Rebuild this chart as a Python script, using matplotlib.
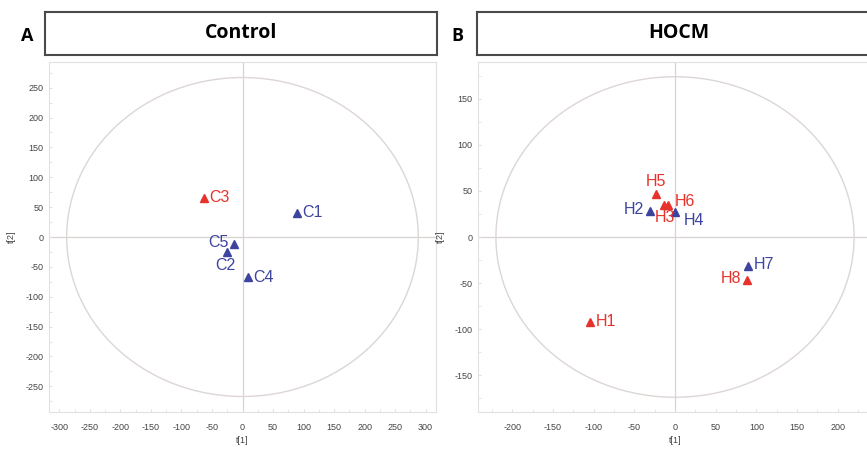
import matplotlib
matplotlib.use("Agg")
import matplotlib.pyplot as plt
from matplotlib.patches import Ellipse
from matplotlib.ticker import MultipleLocator

# scores, panel A (Control)
ctrl_names = ["C1", "C2", "C3", "C4", "C5"]
ctrl_t1 = [89, -25, -63, 9, -14]
ctrl_t2 = [41, -25, 66, -67, -12]
ctrl_group = ["b", "b", "r", "b", "b"]

# scores, panel B (HOCM)
hocm_names = ["H1", "H2", "H3", "H4", "H5", "H6", "H7", "H8"]
hocm_t1 = [-104, -31, -14, 0, -23, -9, 90, 88]
hocm_t2 = [-92, 28, 35, 27, 47, 35, -31, -47]
hocm_group = ["r", "b", "r", "b", "r", "r", "b", "r"]

colors = {"b": "#3c44a0", "r": "#e6322b"}
plt.rcParams["font.family"] = ["Liberation Sans", "DejaVu Sans"]
plt.rcParams["axes.unicode_minus"] = False

# label offsets in points (dx, dy, ha, va)
ctrl_off = {"C1": (1, 0, "left", "center"), "C2": (-1, -10, "center", "center"),
            "C3": (1, 0, "left", "center"), "C4": (1, 0, "left", "center"),
            "C5": (-1, 1, "right", "center")}
hocm_off = {"H1": (1, 0, "left", "center"), "H2": (-1, 1, "right", "center"),
            "H3": (1, -9, "center", "center"), "H4": (3, -6, "left", "center"),
            "H5": (0, 9, "center", "center"), "H6": (2, 2, "left", "center"),
            "H7": (1, 1, "left", "center"), "H8": (-1, 1, "right", "center")}

W, H = 867, 451
fig = plt.figure(figsize=(W / 100, H / 100), dpi=100)


def px(x0, y0, x1, y1):
    return [x0 / W, 1 - y1 / H, (x1 - x0) / W, (y1 - y0) / H]


def score_panel(rect, names, t1, t2, grp, offs, lim_x, lim_y, ell, step):
    ax = fig.add_axes(rect)
    ax.set_xlim(-lim_x, lim_x)
    ax.set_ylim(-lim_y, lim_y)
    ax.axhline(0, color="#d8d2d0", lw=0.9, zorder=1)
    ax.axvline(0, color="#d8d2d0", lw=0.9, zorder=1)
    ax.add_patch(Ellipse((0, 0), 2 * ell[0], 2 * ell[1], fill=False,
                         ec="#dcd6d4", lw=1.0, zorder=1))
    for n, x, y, g in zip(names, t1, t2, grp):
        ax.plot(x, y, "^", color=colors[g], ms=6, mec=colors[g], zorder=3)
        dx, dy, ha, va = offs[n]
        ax.annotate(n, (x, y), xytext=(dx + (3 if ha == "left" else -3 if ha == "right" else 0), dy),
                    textcoords="offset points", ha=ha, va=va, fontsize=11.5,
                    color=colors[g], zorder=4)
    ax.xaxis.set_major_locator(MultipleLocator(step))
    ax.yaxis.set_major_locator(MultipleLocator(step))
    ax.xaxis.set_minor_locator(MultipleLocator(step / 2))
    ax.yaxis.set_minor_locator(MultipleLocator(step / 2))
    ax.tick_params(which="both", direction="in", color="#eadcdc", labelsize=6.5,
                   labelcolor="#444444", length=2)
    ax.tick_params(axis="x", which="major", pad=8)
    ax.tick_params(axis="y", which="major", pad=4)
    for s in ax.spines.values():
        s.set_color("#e2e0e0")
        s.set_linewidth(0.8)
    ax.set_xlabel("t[1]", fontsize=6.5, color="#444444", labelpad=3)
    ax.set_ylabel("t[2]", fontsize=6.5, color="#444444", labelpad=7)
    return ax


def header(rect, letter, title, letter_x):
    hx = fig.add_axes(rect)
    hx.set_xticks([])
    hx.set_yticks([])
    for s in hx.spines.values():
        s.set_color("#4a4a4a")
        s.set_linewidth(1.5)
    hx.text(0.5, 0.5, title, ha="center", va="center", fontsize=14,
            fontweight="bold", family="Open Sans", transform=hx.transAxes)
    fig.text(letter_x / W, 1 - 36 / H, letter, ha="center", va="center",
             fontsize=13, fontweight="bold", family="Open Sans")


score_panel(px(49, 62, 436, 412), ctrl_names, ctrl_t1, ctrl_t2, ctrl_group,
            ctrl_off, 317, 293, (288, 267), 50)
score_panel(px(478, 62, 872, 412), hocm_names, hocm_t1, hocm_t2, hocm_group,
            hocm_off, 242, 190, (220, 174), 50)

header(px(45, 12, 437, 55), "A", "Control", 27)
header(px(477, 12, 880, 55), "B", "HOCM", 457)

fig.savefig("out.png", dpi=100)
